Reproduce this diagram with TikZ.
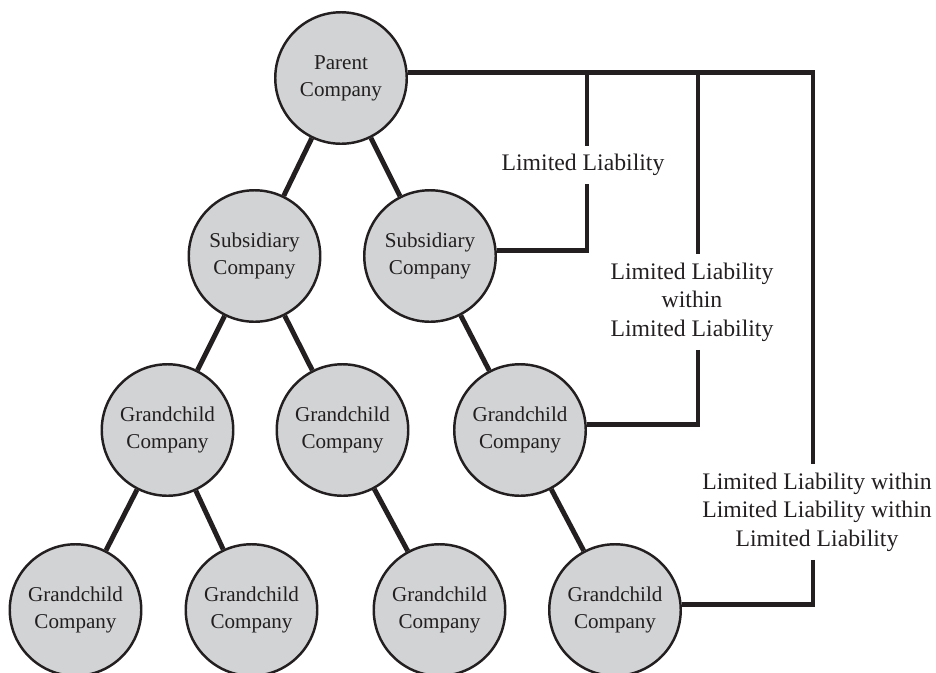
\documentclass[tikz,border=0pt]{standalone}
\usepackage{fontspec}
\setmainfont{Liberation Serif}
\definecolor{inkline}{RGB}{35,31,32}
\definecolor{discgray}{RGB}{209,211,212}
\tikzset{
  company/.style={circle, draw=inkline, fill=discgray, line width=1.4pt,
    minimum size=2.63cm, inner sep=0pt, align=center, text=inkline,
    font=\fontsize{12pt}{15.4pt}\selectfont},
  link/.style={draw=inkline, line width=2.8pt},
  liability/.style={align=center, text=inkline, inner xsep=0pt, inner ysep=0.16cm,
    font=\fontsize{13.5pt}{16.3pt}\selectfont}
}
\begin{document}
\begin{tikzpicture}
  \useasboundingbox (0,0) rectangle (18.72,-13.44);
  % companies
  \node[company] (parent) at (6.82,-1.56) {Parent\\Company};
  \node[company] (subL) at (5.09,-5.12) {Subsidiary\\Company};
  \node[company] (subR) at (8.60,-5.12) {Subsidiary\\Company};
  \node[company] (gcA) at (3.35,-8.60) {Grandchild\\Company};
  \node[company] (gcB) at (6.85,-8.60) {Grandchild\\Company};
  \node[company] (gcC) at (10.40,-8.60) {Grandchild\\Company};
  \node[company] (ggA) at (1.51,-12.20) {Grandchild\\Company};
  \node[company] (ggB) at (5.03,-12.20) {Grandchild\\Company};
  \node[company] (ggC) at (8.79,-12.20) {Grandchild\\Company};
  \node[company] (ggD) at (12.30,-12.20) {Grandchild\\Company};
  % ownership
  \draw[link] (parent) -- (subL);
  \draw[link] (parent) -- (subR);
  \draw[link] (subL) -- (gcA);
  \draw[link] (subL) -- (gcB);
  \draw[link] (subR) -- (gcC);
  \draw[link] (gcA) -- (ggA);
  \draw[link] (gcA) -- (ggB);
  \draw[link] (gcB) -- (ggC);
  \draw[link] (gcC) -- (ggD);
  % liability brackets
  \node[liability] (lab1) at (11.66,-3.30) {Limited Liability};
  \node[liability] (lab2) at (13.84,-6.04) {Limited Liability\\within\\Limited Liability};
  \node[liability] (lab3) at (16.34,-10.24) {Limited Liability within\\Limited Liability within\\Limited Liability};
  \coordinate (top1) at (11.74,0 |- parent.5);
  \coordinate (top2) at (13.96,0 |- parent.5);
  \coordinate (top3) at (16.26,0 |- parent.5);
  \draw[link] (parent.5) -- (top3) -- (top3 |- lab3.north);
  \draw[link] (top1) -- (top1 |- lab1.north);
  \draw[link] (top2) -- (top2 |- lab2.north);
  \draw[link] (top1 |- lab1.south) -- (top1 |- subR.5) -- (subR.5);
  \draw[link] (top2 |- lab2.south) -- (top2 |- gcC.5) -- (gcC.5);
  \draw[link] (top3 |- lab3.south) -- (top3 |- ggD.5) -- (ggD.5);
\end{tikzpicture}
\end{document}
